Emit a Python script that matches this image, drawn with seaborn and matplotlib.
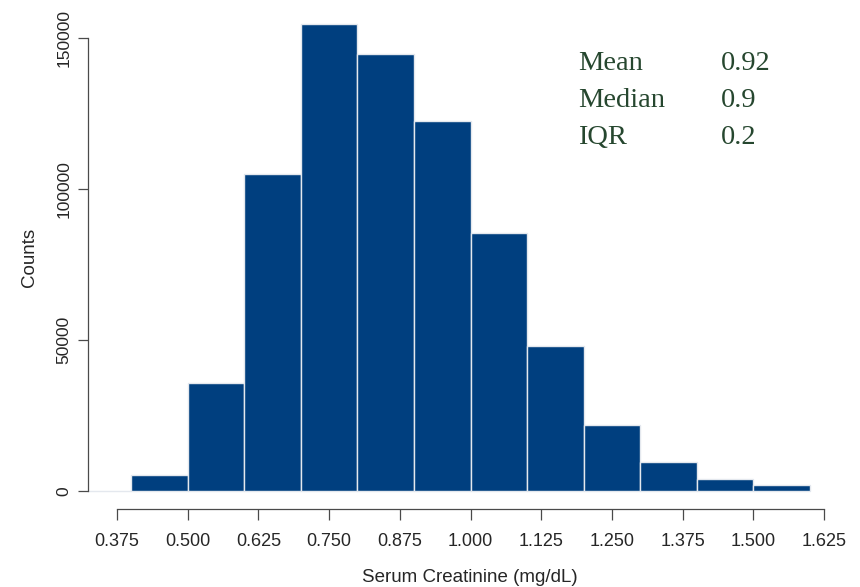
import numpy as np
import pandas as pd
import matplotlib
matplotlib.use("Agg")
import matplotlib.pyplot as plt
import seaborn as sns

# Histogram bins of serum creatinine (mg/dL) and their counts
bin_edges = [0.3, 0.4, 0.5, 0.6, 0.7, 0.8, 0.9, 1.0, 1.1, 1.2, 1.3, 1.4, 1.5, 1.6]
bin_counts = [0, 5200, 35800, 104900, 154800, 144900, 122600,
              85400, 48100, 21800, 9400, 3800, 1900]

# Summary statistics shown in the corner
stat_names = ["Mean", "Median", "IQR"]
stat_values = ["0.92", "0.9", "0.2"]

x_ticks = [0.375, 0.500, 0.625, 0.750, 0.875, 1.000, 1.125, 1.250, 1.375, 1.500, 1.625]
y_ticks = [0, 50000, 100000, 150000]

centers = [(a + b) / 2 for a, b in zip(bin_edges[:-1], bin_edges[1:])]
df = pd.DataFrame({"creatinine": centers, "count": bin_counts})

sns.set_style("ticks")
plt.rcParams["font.family"] = ["Liberation Sans", "DejaVu Sans"]

fig = plt.figure(figsize=(8.6, 5.87), dpi=100)
ax = fig.add_axes([88 / 860, 1 - 509 / 587, (852 - 88) / 860, (509 - 5) / 587])

sns.histplot(data=df, x="creatinine", weights="count", bins=bin_edges,
             stat="count", color="#003f7f", alpha=1.0,
             edgecolor="#e4e8ee", linewidth=1.0, ax=ax)

ax.set_xlim(0.3237, 1.6745)
ax.set_ylim(-6070, 161030)

ax.set_xticks(x_ticks)
ax.set_xticklabels([f"{t:.3f}" for t in x_ticks], fontsize=13)
ax.set_yticks(y_ticks)
ax.set_yticklabels([str(t) for t in y_ticks], fontsize=12.5,
                   rotation=90, va="center")

ax.set_xlabel("Serum Creatinine (mg/dL)", fontsize=13.5, labelpad=14)
ax.set_ylabel("Counts", fontsize=13.5, labelpad=13)

for side in ["top", "right"]:
    ax.spines[side].set_visible(False)
ax.spines["left"].set_bounds(0, 150000)
ax.spines["bottom"].set_bounds(0.375, 1.625)
for side in ["left", "bottom"]:
    ax.spines[side].set_color("#4a4a4a")
    ax.spines[side].set_linewidth(0.9)
ax.tick_params(axis="x", length=8, width=0.9, color="#4a4a4a", pad=9,
               direction="out")
ax.tick_params(axis="y", length=7, width=0.9, color="#4a4a4a", pad=5,
               direction="out")

# Summary statistics block
stat_color = "#26472f"
serif = ["Liberation Serif", "DejaVu Serif"]
for i, (name, val) in enumerate(zip(stat_names, stat_values)):
    y = 0.871 - i * 0.0734
    ax.text((578 - 88) / 764, y, name, transform=ax.transAxes,
            fontsize=20.5, family=serif, color=stat_color,
            va="baseline", ha="left")
    ax.text((721 - 88) / 764, y, val, transform=ax.transAxes,
            fontsize=20.5, family=serif, color=stat_color,
            va="baseline", ha="left")

fig.savefig("out.png", dpi=100)
